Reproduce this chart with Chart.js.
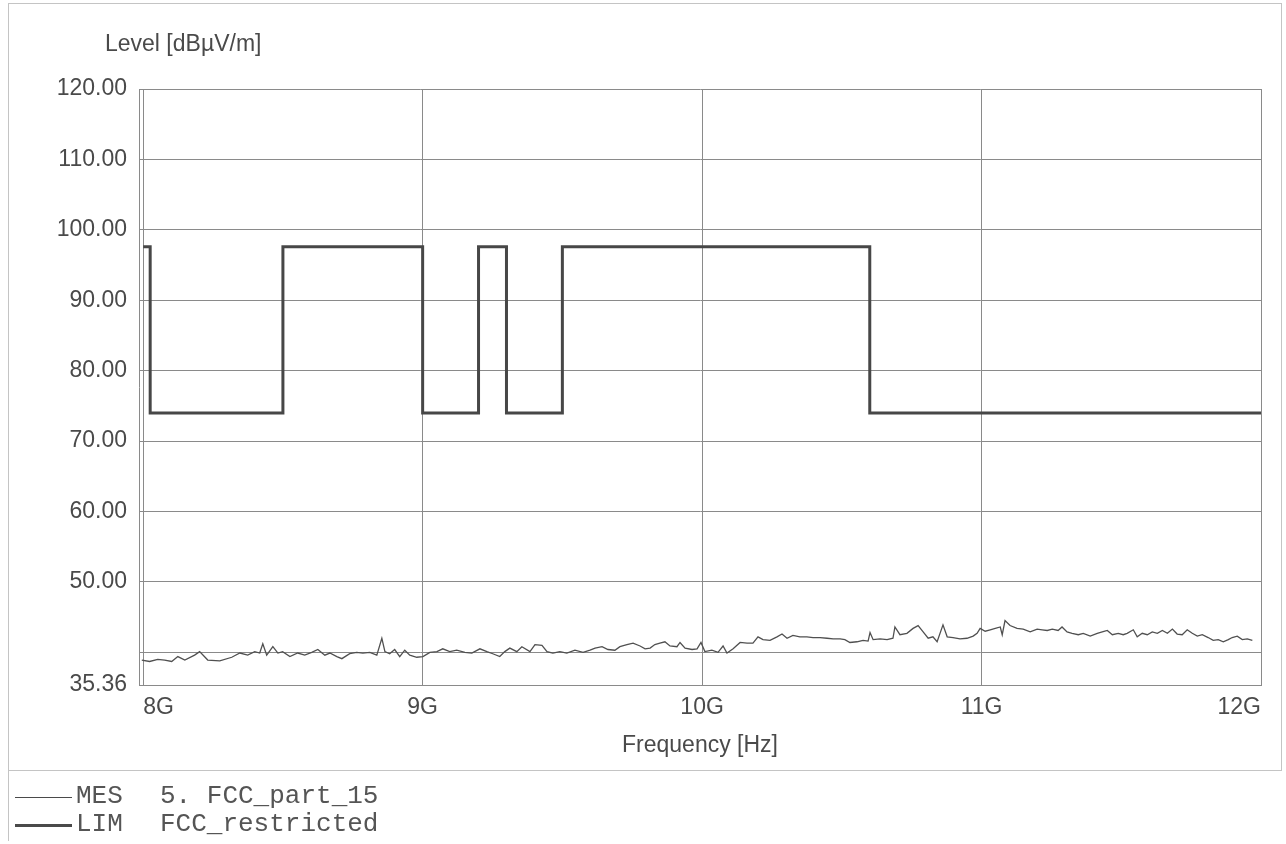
<!DOCTYPE html>
<html>
<head>
<meta charset="utf-8">
<script src="https://cdn.jsdelivr.net/npm/chart.js"></script>
<style>
  html, body { margin: 0; padding: 0; background: #fff; }
  body { width: 1286px; height: 844px; position: relative; overflow: hidden; font-family: "Liberation Sans", Arial, sans-serif; color: #4a4a4a; }
  #chart { position: absolute; left: 0; top: 0; }
  .frame { position: absolute; background: #c4c4c4; }
  .ytitle { position: absolute; left: 105px; top: 30px; font-size: 23px; }
  .leg { position: absolute; left: 0; font-family: "Liberation Mono", "Courier New", monospace; font-size: 26px; color: #555; }
  .leg span { position: absolute; white-space: pre; }
  .leg i { position: absolute; left: 15px; width: 57px; background: #4a4a4a; }
</style>
</head>
<body>
<div class="frame" style="left:8px;top:3px;width:1274px;height:1px"></div>
<div class="frame" style="left:8px;top:3px;width:1px;height:838px"></div>
<div class="frame" style="left:1281px;top:3px;width:1px;height:768px"></div>
<div class="frame" style="left:8px;top:770px;width:1274px;height:1px"></div>
<canvas id="chart" width="1286" height="844"></canvas>
<div class="ytitle">Level [dBµV/m]</div>
<div class="leg" style="top:781px"><i style="top:16px;height:1px"></i><span style="left:76px">MES</span><span style="left:160px">5. FCC_part_15</span></div>
<div class="leg" style="top:809px"><i style="top:15px;height:3px"></i><span style="left:76px">LIM</span><span style="left:160px">FCC_restricted</span></div>
<script>
// frequency in GHz, level in dBuV/m
const mesFreq = [
  7.995, 8.023, 8.052, 8.077, 8.102, 8.124, 8.149, 8.184, 8.202, 8.231,
  8.274, 8.317, 8.346, 8.374, 8.399, 8.417, 8.428, 8.442, 8.464, 8.482,
  8.499, 8.525, 8.553, 8.578, 8.603, 8.625, 8.650, 8.668, 8.693, 8.711,
  8.739, 8.764, 8.786, 8.811, 8.836, 8.854, 8.865, 8.882, 8.900, 8.918,
  8.936, 8.954, 8.979, 9.001, 9.026, 9.051, 9.072, 9.097, 9.122, 9.151,
  9.176, 9.205, 9.230, 9.251, 9.276, 9.294, 9.312, 9.337, 9.355, 9.384,
  9.402, 9.427, 9.445, 9.466, 9.491, 9.516, 9.545, 9.574, 9.599, 9.617,
  9.642, 9.663, 9.688, 9.706, 9.731, 9.753, 9.778, 9.796, 9.814, 9.831,
  9.849, 9.867, 9.885, 9.910, 9.921, 9.939, 9.964, 9.982, 9.996, 10.010,
  10.035, 10.057, 10.075, 10.089, 10.111, 10.136, 10.161, 10.182, 10.200, 10.218,
  10.243, 10.268, 10.286, 10.304, 10.325, 10.350, 10.375, 10.397, 10.422, 10.447,
  10.469, 10.494, 10.511, 10.529, 10.554, 10.576, 10.594, 10.601, 10.612, 10.637,
  10.662, 10.683, 10.690, 10.708, 10.733, 10.755, 10.773, 10.791, 10.809, 10.826,
  10.841, 10.862, 10.877, 10.898, 10.923, 10.948, 10.970, 10.984, 10.995, 11.013,
  11.031, 11.049, 11.067, 11.074, 11.084, 11.102, 11.127, 11.149, 11.174, 11.199,
  11.217, 11.235, 11.253, 11.274, 11.288, 11.306, 11.324, 11.346, 11.364, 11.389,
  11.414, 11.432, 11.450, 11.468, 11.489, 11.507, 11.521, 11.543, 11.557, 11.575,
  11.593, 11.611, 11.629, 11.647, 11.665, 11.683, 11.700, 11.718, 11.736, 11.754,
  11.772, 11.790, 11.811, 11.829, 11.847, 11.865, 11.883, 11.897, 11.915, 11.933,
  11.951, 11.969
];
const mesLevel = [
  38.9, 38.7, 39.0, 38.9, 38.7, 39.4, 38.9, 39.6, 40.1, 38.9,
  38.8, 39.3, 39.9, 39.6, 40.1, 39.9, 41.2, 39.6, 40.8, 39.9,
  40.1, 39.4, 39.9, 39.6, 40.0, 40.4, 39.6, 39.9, 39.4, 39.1,
  39.8, 40.0, 39.9, 40.0, 39.6, 42.0, 40.1, 39.8, 40.4, 39.4,
  40.3, 39.6, 39.3, 39.4, 40.0, 40.1, 40.5, 40.1, 40.3, 40.0,
  39.9, 40.5, 40.1, 39.8, 39.4, 40.1, 40.6, 40.1, 40.8, 40.1,
  41.1, 41.0, 40.1, 39.9, 40.1, 39.9, 40.3, 40.0, 40.3, 40.6,
  40.8, 40.4, 40.3, 40.8, 41.1, 41.3, 40.9, 40.5, 40.6, 41.1,
  41.3, 41.5, 40.9, 40.8, 41.4, 40.6, 40.4, 40.5, 41.4, 40.1,
  40.3, 40.0, 40.9, 39.9, 40.5, 41.4, 41.3, 41.3, 42.2, 41.8,
  41.7, 42.2, 42.6, 42.0, 42.4, 42.2, 42.2, 42.1, 42.1, 42.0,
  41.9, 41.9, 41.8, 41.4, 41.5, 41.7, 41.6, 42.8, 41.8, 41.9,
  41.8, 42.0, 43.6, 42.5, 42.7, 43.4, 43.8, 42.9, 42.0, 42.2,
  41.5, 43.9, 42.2, 42.1, 41.9, 42.0, 42.3, 42.7, 43.4, 43.0,
  43.2, 43.4, 43.6, 42.5, 44.5, 43.8, 43.4, 43.3, 42.9, 43.3,
  43.2, 43.1, 43.3, 43.1, 43.6, 42.9, 42.7, 42.5, 42.7, 42.3,
  42.7, 42.9, 43.1, 42.5, 42.7, 42.5, 42.7, 43.2, 42.2, 42.7,
  42.5, 42.9, 42.7, 43.1, 42.7, 43.3, 42.6, 42.5, 43.2, 42.7,
  42.3, 42.5, 42.1, 41.7, 41.8, 41.5, 41.8, 42.1, 42.3, 41.8,
  41.9, 41.7
];

// FCC restricted-band limit, each level holds until the next frequency
const limFreq  = [8.0, 8.025, 8.5, 9.0, 9.2, 9.3, 9.5, 10.6, 12.0];
const limLevel = [97.6, 74.0, 97.6, 74.0, 97.6, 74.0, 97.6, 74.0, 74.0];

const xTicks = [8, 9, 10, 11, 12];
const yTicks = [35.36, 40, 50, 60, 70, 80, 90, 100, 110, 120];

const ink = '#4a4a4a';
const gridCol = '#8a8a8a';
const tickFont = { family: '"Liberation Sans", Arial, sans-serif', size: 23 };

new Chart(document.getElementById('chart'), {
  type: 'line',
  data: {
    datasets: [
      {
        label: 'MES',
        data: mesFreq.map((f, i) => ({ x: f, y: mesLevel[i] })),
        borderColor: '#505050',
        borderWidth: 1.3,
        pointRadius: 0,
        tension: 0
      },
      {
        label: 'LIM',
        data: limFreq.map((f, i) => ({ x: f, y: limLevel[i] })),
        borderColor: '#474747',
        borderWidth: 3,
        pointRadius: 0,
        stepped: 'before'
      }
    ]
  },
  options: {
    responsive: false,
    animation: false,
    layout: { padding: { left: 0, top: 89, right: 25, bottom: 79 } },
    plugins: { legend: { display: false }, tooltip: { enabled: false } },
    scales: {
      x: {
        type: 'linear',
        min: 7.985,
        max: 12.0,
        afterBuildTicks: s => { s.ticks = xTicks.map(v => ({ value: v })); },
        afterFit: s => { s.height = 80; },
        grid: { color: gridCol, lineWidth: 1, drawTicks: false },
        border: { color: gridCol, width: 1 },
        ticks: { color: ink, font: tickFont, padding: 9, align: 'inner', maxRotation: 0, callback: v => v + 'G' },
        title: { display: true, text: 'Frequency [Hz]', color: ink, font: tickFont, padding: { top: 0, bottom: 6 } }
      },
      y: {
        min: 35.36,
        max: 120,
        afterBuildTicks: s => { s.ticks = yTicks.map(v => ({ value: v })); },
        afterFit: s => { s.width = 139; },
        grid: { color: gridCol, lineWidth: 1, drawTicks: false },
        border: { color: gridCol, width: 1 },
        ticks: { color: ink, font: tickFont, padding: 12, callback: v => (v === 40 ? '' : v.toFixed(2)) }
      }
    }
  }
});
</script>
</body>
</html>
